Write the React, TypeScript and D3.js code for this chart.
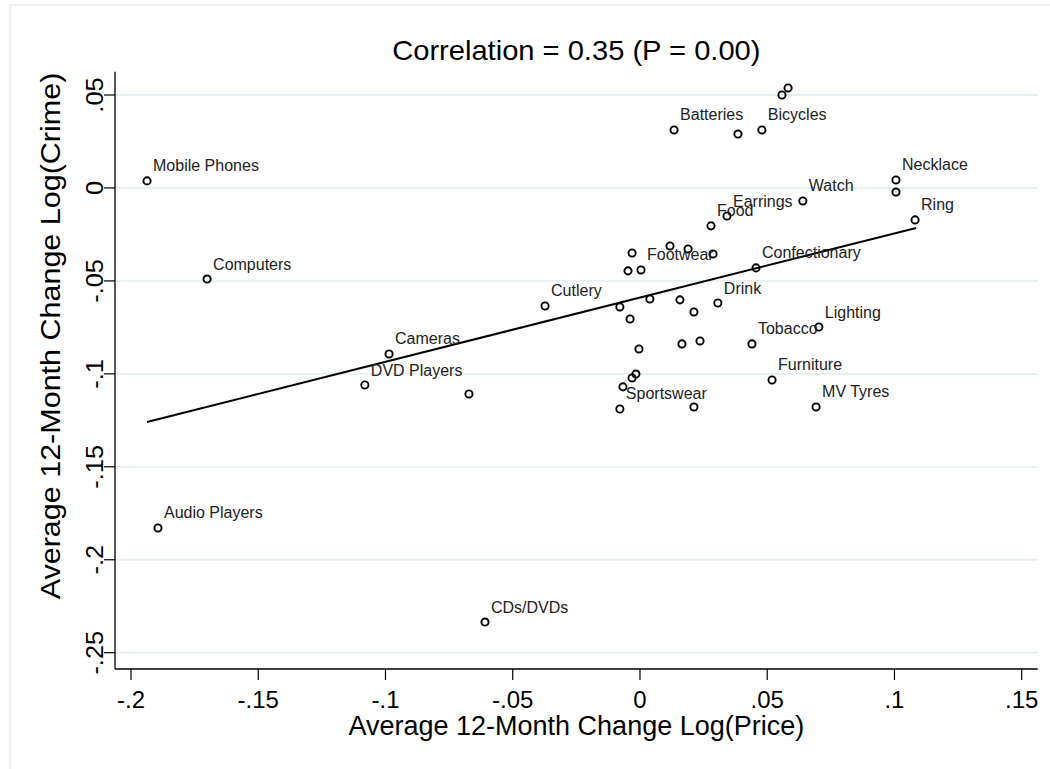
import React from "react";
import * as d3 from "d3";

const labels: string[] = [
  "Mobile Phones", "Computers", "Audio Players", "CDs/DVDs", "Cameras", "DVD Players", "",
  "Cutlery", "Batteries", "", "Bicycles", "", "", "Necklace", "", "Ring", "Watch", "Earrings",
  "Food", "", "", "", "", "", "Footwear", "Confectionary", "", "", "", "", "Drink", "",
  "Lighting", "", "", "", "Tobacco", "", "", "Furniture", "", "Sportswear", "", "MV Tyres",
];
const priceChange: number[] = [
  -0.1937, -0.1701, -0.1894, -0.0609, -0.0986, -0.1081, -0.0672,
  -0.0373, 0.0134, 0.0385, 0.0479, 0.0558, 0.0582, 0.1006, 0.1006, 0.1081, 0.064, 0.0342,
  0.0279, -0.0031, 0.0118, 0.0189, 0.0287, -0.0047, 0.0004, 0.0456, -0.0079, 0.0039, 0.0157, 0.0212, 0.0306, -0.0039,
  0.0703, -0.0004, 0.0165, 0.0236, 0.044, -0.0016, -0.0031, 0.0519, -0.0067, -0.0079, 0.0212, 0.0692,
];
const crimeChange: number[] = [
  0.0038, -0.049, -0.1829, -0.2335, -0.0893, -0.106, -0.1108,
  -0.0635, 0.0312, 0.029, 0.0312, 0.05, 0.0538, 0.0043, -0.0022, -0.0172, -0.007, -0.0151,
  -0.0204, -0.035, -0.0312, -0.0328, -0.0355, -0.0446, -0.0441, -0.043, -0.064, -0.0597, -0.0602, -0.0667, -0.0619, -0.0705,
  -0.0748, -0.0866, -0.0839, -0.0823, -0.0839, -0.1001, -0.1022, -0.1033, -0.107, -0.1189, -0.1178, -0.1178,
];
const fitX: number[] = [-0.1937, 0.1085];
const fitY: number[] = [-0.1259, -0.0215];
const xTicks: number[] = [-0.2, -0.15, -0.1, -0.05, 0, 0.05, 0.1, 0.15];
const xTickLabels: string[] = ["-.2", "-.15", "-.1", "-.05", "0", ".05", ".1", ".15"];
const yTicks: number[] = [0.05, 0, -0.05, -0.1, -0.15, -0.2, -0.25];
const yTickLabels: string[] = [".05", "0", "-.05", "-.1", "-.15", "-.2", "-.25"];
const title = "Correlation = 0.35 (P = 0.00)";
const xTitle = "Average 12-Month Change Log(Price)";
const yTitle = "Average 12-Month Change Log(Crime)";

const W = 1050;
const H = 769;
const left = 115;
const right = 1037.7;
const top = 71.7;
const bottom = 669;
const font = "'Liberation Sans', Arial, Helvetica, sans-serif";

export default function App() {
  const x = d3.scaleLinear().domain([-0.2, 0.15]).range([131, 1021.7]);
  const y = d3.scaleLinear().domain([0.05, -0.25]).range([95, 652.7]);
  const line = d3
    .line<number>()
    .x((d) => x(fitX[d]))
    .y((d) => y(fitY[d]));

  return (
    <svg
      width={W}
      height={H}
      style={{ position: "absolute", left: 0, top: 0, background: "#fff" }}
      fontFamily={font}
    >
      <rect x={0} y={0} width={W} height={H} fill="#fff" />
      <line x1={10} y1={5} x2={W} y2={5} stroke="#e8eef3" strokeWidth={1.5} />
      <line x1={10} y1={5} x2={10} y2={H} stroke="#e8eef3" strokeWidth={1.5} />

      {yTicks.map((t) => (
        <line key={"g" + t} x1={left} x2={right} y1={y(t)} y2={y(t)} stroke="#e6eff1" strokeWidth={1.8} />
      ))}

      <line x1={left} x2={left} y1={top} y2={bottom} stroke="#000" strokeWidth={1.3} />
      <line x1={left} x2={right} y1={bottom} y2={bottom} stroke="#000" strokeWidth={1.3} />

      {yTicks.map((t, i) => (
        <g key={"yt" + t}>
          <line x1={left - 11} x2={left} y1={y(t)} y2={y(t)} stroke="#000" strokeWidth={1.2} />
          <text
            transform={`translate(103,${y(t)}) rotate(-90) scale(1.06,1)`}
            textAnchor="middle"
            fontSize={24}
            fill="#000"
          >
            {yTickLabels[i]}
          </text>
        </g>
      ))}
      {xTicks.map((t, i) => (
        <g key={"xt" + t}>
          <line x1={x(t)} x2={x(t)} y1={bottom} y2={bottom + 11} stroke="#000" strokeWidth={1.2} />
          <text x={x(t)} y={708} textAnchor="middle" fontSize={24} fill="#000">
            {xTickLabels[i]}
          </text>
        </g>
      ))}

      <path d={line([0, 1]) || ""} fill="none" stroke="#000" strokeWidth={2} />

      {priceChange.map((p, i) => (
        <circle
          key={"c" + i}
          cx={x(p)}
          cy={y(crimeChange[i])}
          r={3.6}
          fill="none"
          stroke="#000"
          strokeWidth={1.9}
        />
      ))}
      {priceChange.map((p, i) =>
        labels[i] ? (
          <text key={"l" + i} x={x(p) + 6} y={y(crimeChange[i]) - 9.5} fontSize={16} fill="#222">
            {labels[i]}
          </text>
        ) : null
      )}

      <text x={(left + right) / 2} y={60} textAnchor="middle" fontSize={28} fill="#000"
        transform={`translate(${(left + right) / 2},0) scale(1.04,1) translate(${-(left + right) / 2},0)`}>
        {title}
      </text>
      <text x={(left + right) / 2} y={735} textAnchor="middle" fontSize={27} fill="#000">
        {xTitle}
      </text>
      <text
        transform={`translate(60,336) rotate(-90) scale(1.13,1)`}
        textAnchor="middle"
        fontSize={27}
        fill="#000"
      >
        {yTitle}
      </text>
    </svg>
  );
}
